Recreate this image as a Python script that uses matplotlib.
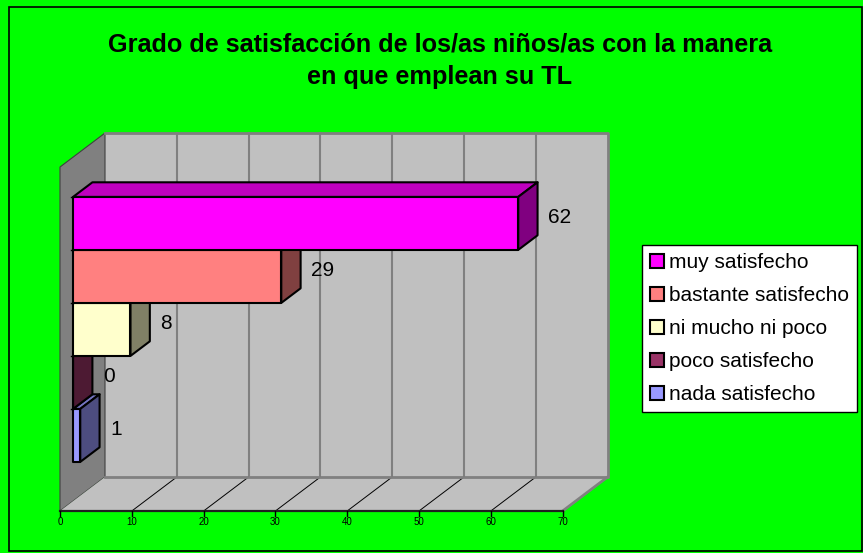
import matplotlib
matplotlib.use("Agg")
import matplotlib.pyplot as plt
from matplotlib.patches import Polygon, Patch, Rectangle
from matplotlib.colors import to_rgb

# chart data (first item is the top bar)
categories = ['muy satisfecho', 'bastante satisfecho', 'ni mucho ni poco',
              'poco satisfecho', 'nada satisfecho']
values = [62, 29, 8, 0, 1]
bar_colors = ['#FF00FF', '#FF8080', '#FFFFCC', '#993366', '#9999FF']
x_ticks = [0, 10, 20, 30, 40, 50, 60, 70]
title = 'Grado de satisfacción de los/as niños/as con la manera\nen que emplean su TL'

# figure / projection layout
W, H = 863, 553
PX_PER_VAL = 7.18      # pixels per value unit
PX_PER_ROW = 53        # pixels per bar height
ORIGIN = (60, 511)     # front-left corner of floor (pixels from top-left)
XMAX = 70
WALL_H = 344 / PX_PER_ROW
DX, DY = 45 / PX_PER_VAL, 34 / PX_PER_ROW   # full depth of the box
BAR_D0, BAR_D1 = 0.29, 0.72                  # bar depth range
BAR_BASE = 0.74

GREEN = '#00FF00'
WALL = '#C0C0C0'
SIDE = '#808080'

plt.rcParams['font.family'] = ['Liberation Sans', 'DejaVu Sans']

fig = plt.figure(figsize=(W / 100, H / 100), dpi=100)
fig.patch.set_facecolor(GREEN)
ax = fig.add_axes([0, 0, 1, 1])
ax.set_xlim(-ORIGIN[0] / PX_PER_VAL, (W - ORIGIN[0]) / PX_PER_VAL)
ax.set_ylim(-(H - ORIGIN[1]) / PX_PER_ROW, ORIGIN[1] / PX_PER_ROW)
ax.axis('off')


def proj(x, y, d):
    return (x + d * DX, y + d * DY)


def shade(color, f):
    r, g, b = to_rgb(color)
    return (r * f, g * f, b * f)


# walls and floor
back = [proj(0, 0, 1), proj(XMAX, 0, 1), proj(XMAX, WALL_H, 1), proj(0, WALL_H, 1)]
ax.add_patch(Polygon(back, closed=True, facecolor=WALL, edgecolor='none', zorder=1))
side = [proj(0, 0, 0), proj(0, 0, 1), proj(0, WALL_H, 1), proj(0, WALL_H, 0)]
ax.add_patch(Polygon(side, closed=True, facecolor=SIDE, edgecolor='#404040', lw=0.8, zorder=1))
floor = [proj(0, 0, 0), proj(XMAX, 0, 0), proj(XMAX, 0, 1), proj(0, 0, 1)]
ax.add_patch(Polygon(floor, closed=True, facecolor=WALL, edgecolor='none', zorder=1))

# gridlines on back wall and floor
for t in x_ticks[1:-1]:
    x0, y0 = proj(t, 0, 1)
    x1, y1 = proj(t, WALL_H, 1)
    ax.plot([x0, x1], [y0, y1], color=SIDE, lw=1.5, zorder=2)
    fx, fy = proj(t, 0, 0)
    ax.plot([fx, x0], [fy, y0], color='black', lw=0.7, zorder=2)

# wall outlines
edge = [proj(0, WALL_H, 1), proj(XMAX, WALL_H, 1), proj(XMAX, 0, 1), proj(0, 0, 1)]
ax.plot([p[0] for p in edge], [p[1] for p in edge], color=SIDE, lw=2, zorder=2)
r0, r1 = proj(XMAX, 0, 0), proj(XMAX, 0, 1)
ax.plot([r0[0], r1[0]], [r0[1], r1[1]], color=SIDE, lw=2, zorder=2)

# value axis along the front edge of the floor
ax.plot([0, XMAX], [0, 0], color='#202020', lw=1.6, zorder=3)
tick_len = 5 / PX_PER_ROW
for t in x_ticks:
    ax.plot([t, t], [0, -tick_len], color='black', lw=1, zorder=3)
    ax.text(t, -11 / PX_PER_ROW, str(t), ha='center', va='center', fontsize=7, zorder=3)

# bars, drawn from the lowest to the highest
n = len(values)
for i in range(n - 1, -1, -1):
    v = values[i]
    c = bar_colors[i]
    row = n - 1 - i
    y0 = BAR_BASE + row
    y1 = y0 + 1
    front = [proj(0, y0, BAR_D0), proj(v, y0, BAR_D0), proj(v, y1, BAR_D0), proj(0, y1, BAR_D0)]
    top = [proj(0, y1, BAR_D0), proj(v, y1, BAR_D0), proj(v, y1, BAR_D1), proj(0, y1, BAR_D1)]
    right = [proj(v, y0, BAR_D0), proj(v, y0, BAR_D1), proj(v, y1, BAR_D1), proj(v, y1, BAR_D0)]
    for poly, f in [(top, 0.75), (right, 0.5), (front, 1.0)]:
        ax.add_patch(Polygon(poly, closed=True, facecolor=shade(c, f),
                             edgecolor='black', lw=1.5, joinstyle='round', zorder=4))
    lx, ly = proj(v, (y0 + y1) / 2 + 0.12, BAR_D0)
    ax.text(lx + 30 / PX_PER_VAL, ly, str(v), ha='left', va='center',
            fontsize=15, zorder=5)

# small category ticks left of the bars
for row in range(1, n + 1):
    tx, ty = proj(0, BAR_BASE + row, BAR_D0)
    ax.plot([tx - 2.5 / PX_PER_VAL, tx], [ty, ty], color='black', lw=1, zorder=5)

# legend
handles = [Patch(facecolor=c, edgecolor='black', lw=1.5) for c in bar_colors]
leg = fig.legend(handles, categories, loc='upper left',
                 bbox_to_anchor=(642 / W, 1 - 245 / H), bbox_transform=fig.transFigure,
                 borderaxespad=0, fontsize=15, frameon=True, fancybox=False, framealpha=1,
                 handlelength=0.65, handleheight=0.65, handletextpad=0.25,
                 labelspacing=0.67, borderpad=0.4)
leg.get_frame().set_edgecolor('black')
leg.get_frame().set_linewidth(1)
leg.get_frame().set_facecolor('white')

# title
fig.text(440 / W, 1 - 61 / H, title, ha='center', va='center', fontsize=18.2,
         fontweight='bold', linespacing=1.45)

# outer border
fig.patches.append(Rectangle((9 / W, 2 / H), 853 / W, 544 / H, transform=fig.transFigure,
                             fill=False, edgecolor='black', lw=1.2))

fig.savefig('out.png', dpi=100, facecolor=GREEN)
